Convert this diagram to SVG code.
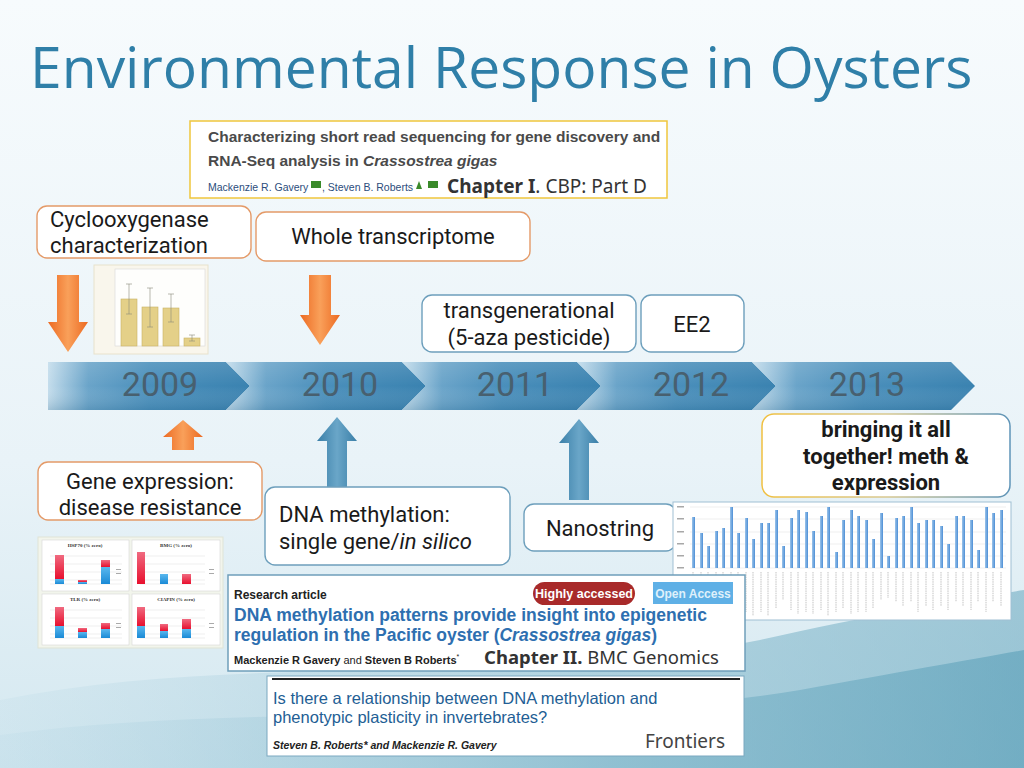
<svg xmlns="http://www.w3.org/2000/svg" width="1024" height="768" viewBox="0 0 1024 768">
<defs>
<style>
.box{font-family:Roboto,"Noto Sans",sans-serif;font-size:22px;fill:#1a1a1a}
.ob{fill:#fff;stroke:#e49a68;stroke-width:1.4}
.bb{fill:#fff;stroke:#6d9fbc;stroke-width:1.4}
.yr{font-family:Roboto,"Liberation Sans",sans-serif;font-size:34px;fill:#48606f;text-anchor:middle}
.pap{font-family:"Liberation Sans",Arial,sans-serif}
.grid{stroke:#dcdcdc;stroke-width:0.5}
</style>
<linearGradient id="bg" x1="0" y1="0" x2="0" y2="1">
<stop offset="0" stop-color="#f7fbfd"/>
<stop offset="0.6" stop-color="#e9f3f8"/>
<stop offset="1" stop-color="#d4e8f0"/>
</linearGradient>
<linearGradient id="swoosh" x1="0" y1="0" x2="1" y2="0">
<stop offset="0" stop-color="#bfdce8" stop-opacity="0.5"/>
<stop offset="0.6" stop-color="#7fb6ca"/>
<stop offset="1" stop-color="#5a9fb8"/>
</linearGradient>
<linearGradient id="chev" x1="0" y1="0" x2="1" y2="0">
<stop offset="0" stop-color="#c4ddec"/>
<stop offset="0.2" stop-color="#6aa4c9"/>
<stop offset="0.5" stop-color="#4a8fbb"/>
<stop offset="1" stop-color="#3a82b0"/>
</linearGradient>
<linearGradient id="chevv" x1="0" y1="0" x2="0" y2="1">
<stop offset="0" stop-color="#ffffff" stop-opacity="0.12"/>
<stop offset="0.5" stop-color="#ffffff" stop-opacity="0"/>
<stop offset="1" stop-color="#1d5a80" stop-opacity="0.2"/>
</linearGradient>
<linearGradient id="orng" x1="0" y1="0" x2="1" y2="0">
<stop offset="0" stop-color="#ec6a22"/>
<stop offset="0.5" stop-color="#f9a05a"/>
<stop offset="1" stop-color="#ec6a22"/>
</linearGradient>
<linearGradient id="blu" x1="0" y1="0" x2="1" y2="0">
<stop offset="0" stop-color="#3a7fa8"/>
<stop offset="0.5" stop-color="#6aa6c8"/>
<stop offset="1" stop-color="#3a7fa8"/>
</linearGradient>
<linearGradient id="red" x1="0" y1="0" x2="0" y2="1">
<stop offset="0" stop-color="#f06a80"/>
<stop offset="1" stop-color="#e8102e"/>
</linearGradient>
<linearGradient id="cyan" x1="0" y1="0" x2="0" y2="1">
<stop offset="0" stop-color="#5ab8ee"/>
<stop offset="1" stop-color="#1a8ad6"/>
</linearGradient>
<linearGradient id="mbar" x1="0" y1="0" x2="1" y2="0">
<stop offset="0" stop-color="#9cc4ea"/>
<stop offset="1" stop-color="#4d8fd6"/>
</linearGradient>
<linearGradient id="bring" x1="0" y1="0" x2="1" y2="0">
<stop offset="0" stop-color="#f0c040"/>
<stop offset="0.5" stop-color="#d8c890"/>
<stop offset="1" stop-color="#5e94b8"/>
</linearGradient>
</defs>

<!-- background -->
<rect width="1024" height="768" fill="url(#bg)"/>
<path d="M0,700 C250,650 520,690 760,640 C870,615 960,600 1024,590 L1024,768 L0,768 Z" fill="url(#swoosh)" opacity="0.5"/>
<path d="M0,735 C260,700 560,730 800,690 C900,672 970,660 1024,650 L1024,768 L0,768 Z" fill="url(#swoosh)" opacity="0.6"/>

<text x="30" y="88" font-family="'Open Sans','Noto Sans',sans-serif" font-size="57" fill="#2f7fa8">Environmental Response in Oysters</text>

<!-- top paper -->
<g id="paper1">
<rect x="190" y="121" width="477" height="77" fill="#fff" stroke="#f0c63c" stroke-width="1.5"/>
<text class="pap" x="208" y="142" font-size="15.5" font-weight="bold" fill="#4a4a4a">Characterizing short read sequencing for gene discovery and</text>
<text class="pap" x="208" y="166" font-size="15.5" font-weight="bold" fill="#4a4a4a">RNA-Seq analysis in <tspan font-style="italic">Crassostrea gigas</tspan></text>
<text class="pap" x="208" y="191" font-size="10.5" fill="#2c4d7c">Mackenzie R. Gavery</text>
<rect x="311" y="181" width="10" height="7" fill="#3a8a2a"/>
<text class="pap" x="322" y="191" font-size="10.5" fill="#2c4d7c">, Steven B. Roberts</text>
<path d="M416,189 l3,-8 l3,8 z" fill="#3a8a2a"/>
<rect x="428" y="181" width="10" height="7" fill="#3a8a2a"/>
<text x="447" y="193" font-family="'Noto Sans',sans-serif" font-size="19" fill="#333"><tspan font-weight="bold">Chapter I</tspan>. CBP: Part D</text>
</g>

<!-- COX chart -->
<g id="coxchart">
<rect x="94" y="265" width="114" height="89" fill="#f9f6ec" stroke="#e8e2cc"/>
<rect x="115" y="269" width="90" height="77" fill="#fefefc" stroke="#d8d8d8" stroke-width="0.6"/>
<g fill="#e4d088" stroke="#c8b264" stroke-width="0.6">
<rect x="121" y="299" width="16" height="47"/>
<rect x="142" y="307" width="16" height="39"/>
<rect x="163" y="308" width="16" height="38"/>
<rect x="184" y="338" width="16" height="8"/>
</g>
<g stroke="#8a8a7a" stroke-width="0.6">
<path d="M129,284 V314 M126,284 h6 M126,314 h6"/>
<path d="M150,288 V327 M147,288 h6 M147,327 h6"/>
<path d="M171,294 V322 M168,294 h6 M168,322 h6"/>
<path d="M192,335 V341 M189,335 h6 M189,341 h6"/>
</g>
</g>

<!-- timeline -->
<g id="timeline">
<g id="y2009"><polygon points="48,362 226,362 250,386 226,410 48,410" fill="url(#chev)"/><polygon points="48,362 226,362 250,386 226,410 48,410" fill="url(#chevv)"/><text class="yr" x="160" y="396">2009</text></g>
<g id="y2010"><polygon points="226,362 402,362 426,386 402,410 226,410 250,386" fill="url(#chev)"/><polygon points="226,362 402,362 426,386 402,410 226,410 250,386" fill="url(#chevv)"/><text class="yr" x="340" y="396">2010</text></g>
<g id="y2011"><polygon points="402,362 577,362 601,386 577,410 402,410 426,386" fill="url(#chev)"/><polygon points="402,362 577,362 601,386 577,410 402,410 426,386" fill="url(#chevv)"/><text class="yr" x="515" y="396">2011</text></g>
<g id="y2012"><polygon points="577,362 752,362 776,386 752,410 577,410 601,386" fill="url(#chev)"/><polygon points="577,362 752,362 776,386 752,410 577,410 601,386" fill="url(#chevv)"/><text class="yr" x="691" y="396">2012</text></g>
<g id="y2013"><polygon points="752,362 951,362 975,386 951,410 752,410 776,386" fill="url(#chev)"/><polygon points="752,362 951,362 975,386 951,410 752,410 776,386" fill="url(#chevv)"/><text class="yr" x="867" y="396">2013</text></g>
</g>

<!-- connectors (arrows) -->
<g id="connectors">
<polygon points="57,275 79,275 79,322 88,322 68,352 48,322 57,322" fill="url(#orng)"/>
<polygon points="309,275 331,275 331,315 340,315 320,345 300,315 309,315" fill="url(#orng)"/>
<polygon points="183,420 203,437 194,437 194,450 172,450 172,437 163,437" fill="url(#orng)"/>
<polygon points="337,417 357,441 347,441 347,497 327,497 327,441 317,441" fill="url(#blu)"/>
<polygon points="579,419 599,443 589,443 589,500 569,500 569,443 559,443" fill="url(#blu)"/>
</g>

<!-- nodes -->
<g id="cox"><rect class="ob" x="37" y="206" width="214" height="52" rx="10"/><text class="box" x="50" y="227">Cyclooxygenase</text><text class="box" x="50" y="253">characterization</text></g>
<g id="whole"><rect class="ob" x="256" y="212" width="274" height="49" rx="10"/><text class="box" x="393" y="244" text-anchor="middle">Whole transcriptome</text></g>
<g id="transgen"><rect class="bb" x="422" y="295" width="214" height="57" rx="10"/><text class="box" x="529" y="318" text-anchor="middle">transgenerational</text><text class="box" x="529" y="345" text-anchor="middle">(5-aza pesticide)</text></g>
<g id="ee2"><rect class="bb" x="641" y="295" width="103" height="57" rx="10"/><text class="box" x="692" y="332" text-anchor="middle">EE2</text></g>
<g id="geneexp"><rect class="ob" x="38" y="462" width="224" height="58" rx="10"/><text class="box" x="150" y="489" text-anchor="middle">Gene expression:</text><text class="box" x="150" y="515" text-anchor="middle">disease resistance</text></g>
<g id="dnameth"><rect class="bb" x="265" y="487" width="245" height="78" rx="10"/><text class="box" x="279" y="522">DNA methylation:</text><text class="box" x="279" y="549">single gene/<tspan font-style="italic">in silico</tspan></text></g>
<g id="nano"><rect class="bb" x="524" y="504" width="152" height="47" rx="10"/><text class="box" x="600" y="536" text-anchor="middle">Nanostring</text></g>
<g id="bringing"><rect x="762" y="414" width="248" height="83" rx="12" fill="#fff" stroke="url(#bring)" stroke-width="1.5"/><g class="box" font-weight="bold" text-anchor="middle" font-size="21.5"><text x="886" y="437">bringing it all</text><text x="886" y="464">together! meth &amp;</text><text x="886" y="490">expression</text></g></g>

<!-- gene expression 4-panel chart -->
<g id="gechart">
<rect x="38" y="537" width="185" height="111" fill="#f2f5ec" stroke="#dfe3d6"/>
<g fill="#fff" stroke="#d6d6d6" stroke-width="0.6">
<rect x="42" y="540" width="87" height="51"/><rect x="132" y="540" width="88" height="51"/>
<rect x="42" y="594" width="87" height="51"/><rect x="132" y="594" width="88" height="51"/>
</g>
<g font-family="'Liberation Serif',serif" font-size="5" font-weight="bold" fill="#333" text-anchor="middle">
<text x="85" y="547">HSP70 (% zero)</text><text x="176" y="547">BMG (% zero)</text>
<text x="85" y="601">TLR (% zero)</text><text x="176" y="601">CIAPIN (% zero)</text>
</g>
<g class="grid">
<path d="M50,556 H122 M50,564 H122 M50,572 H122 M50,580 H122 M50,584 H122"/>
<path d="M140,556 H205 M140,564 H205 M140,572 H205 M140,580 H205 M140,584 H205"/>
<path d="M50,610 H122 M50,618 H122 M50,626 H122 M50,634 H122 M50,638 H122"/>
<path d="M140,610 H205 M140,618 H205 M140,626 H205 M140,634 H205 M140,638 H205"/>
</g>
<rect x="55" y="555" width="9" height="24" fill="url(#red)"/><rect x="55" y="579" width="9" height="5" fill="url(#cyan)"/>
<rect x="78" y="580" width="9" height="2" fill="url(#red)"/><rect x="78" y="582" width="9" height="2" fill="url(#cyan)"/>
<rect x="101" y="560" width="9" height="7" fill="url(#red)"/><rect x="101" y="567" width="9" height="17" fill="url(#cyan)"/>
<rect x="137" y="552" width="8" height="32" fill="url(#red)"/>
<rect x="160" y="574" width="8" height="10" fill="url(#cyan)"/>
<rect x="182" y="574" width="9" height="10" fill="url(#red)"/>
<rect x="55" y="607" width="9" height="19" fill="url(#red)"/><rect x="55" y="626" width="9" height="12" fill="url(#cyan)"/>
<rect x="78" y="628" width="9" height="4" fill="url(#red)"/><rect x="78" y="632" width="9" height="6" fill="url(#cyan)"/>
<rect x="101" y="623" width="9" height="6" fill="url(#red)"/><rect x="101" y="629" width="9" height="9" fill="url(#cyan)"/>
<rect x="137" y="607" width="8" height="19" fill="url(#red)"/><rect x="137" y="626" width="8" height="12" fill="url(#cyan)"/>
<rect x="160" y="624" width="8" height="7" fill="url(#red)"/><rect x="160" y="631" width="8" height="7" fill="url(#cyan)"/>
<rect x="182" y="619" width="9" height="10" fill="url(#red)"/><rect x="182" y="629" width="9" height="9" fill="url(#cyan)"/>
<g fill="#aaa"><rect x="116" y="569" width="5" height="1"/><rect x="116" y="573" width="5" height="1"/><rect x="209" y="569" width="5" height="1"/><rect x="209" y="573" width="5" height="1"/><rect x="116" y="623" width="5" height="1"/><rect x="116" y="627" width="5" height="1"/><rect x="209" y="623" width="5" height="1"/><rect x="209" y="627" width="5" height="1"/></g>
</g>

<!-- methylation bar chart -->
<g id="methchart">
<rect x="673" y="502" width="338" height="118" fill="#fff" stroke="#9fbfd3"/>
<g class="grid"><path d="M690,507 H1006 M690,519 H1006 M690,532 H1006 M690,544 H1006 M690,556 H1006 M690,568 H1006"/></g>
<g fill="#a8a8a8"><rect x="677" y="506" width="7" height="1.5"/><rect x="677" y="518" width="7" height="1.5"/><rect x="677" y="531" width="7" height="1.5"/><rect x="677" y="543" width="7" height="1.5"/><rect x="677" y="555" width="7" height="1.5"/><rect x="677" y="567" width="7" height="1.5"/></g>
<g fill="url(#mbar)">
<rect x="692" y="517" width="3" height="51"/><rect x="700" y="533" width="3" height="35"/><rect x="707" y="546" width="3" height="22"/><rect x="715" y="531" width="3" height="37"/><rect x="722" y="528" width="3" height="40"/><rect x="730" y="507" width="3" height="61"/><rect x="737" y="533" width="3" height="35"/><rect x="745" y="518" width="3" height="50"/><rect x="752" y="539" width="3" height="29"/><rect x="760" y="523" width="3" height="45"/><rect x="767" y="523" width="3" height="45"/><rect x="775" y="510" width="3" height="58"/><rect x="782" y="546" width="3" height="22"/><rect x="790" y="518" width="3" height="50"/><rect x="797" y="510" width="3" height="58"/><rect x="805" y="512" width="3" height="56"/><rect x="812" y="531" width="3" height="37"/><rect x="820" y="516" width="3" height="52"/><rect x="827" y="507" width="3" height="61"/><rect x="835" y="552" width="3" height="16"/><rect x="842" y="520" width="3" height="48"/><rect x="850" y="510" width="3" height="58"/><rect x="857" y="516" width="3" height="52"/><rect x="865" y="520" width="3" height="48"/><rect x="872" y="539" width="3" height="29"/><rect x="880" y="513" width="3" height="55"/><rect x="887" y="556" width="3" height="12"/><rect x="895" y="518" width="3" height="50"/><rect x="902" y="516" width="3" height="52"/><rect x="910" y="507" width="3" height="61"/><rect x="917" y="523" width="3" height="45"/><rect x="925" y="520" width="3" height="48"/><rect x="932" y="520" width="3" height="48"/><rect x="940" y="526" width="3" height="42"/><rect x="947" y="544" width="3" height="24"/><rect x="955" y="516" width="3" height="52"/><rect x="962" y="516" width="3" height="52"/><rect x="970" y="520" width="3" height="48"/><rect x="977" y="550" width="3" height="18"/><rect x="985" y="507" width="3" height="61"/><rect x="992" y="513" width="3" height="55"/><rect x="1000" y="510" width="3" height="58"/>
</g>
<g stroke="#b4b4b4" stroke-width="0.8" stroke-dasharray="1.5,0.8">
<path d="M693,572 v4 M701,572 v4 M708,572 v4 M716,572 v4 M723,572 v4 M731,572 v4 M738,572 v4"/>
<path d="M746,572 v40 M753,572 v44 M761,572 v40 M768,572 v44 M776,572 v36 M783,572 v28 M791,572 v38 M798,572 v42 M806,572 v40 M813,572 v42 M821,572 v38 M828,572 v44 M836,572 v40 M843,572 v36 M851,572 v42 M858,572 v40 M866,572 v40 M873,572 v36 M881,572 v28 M888,572 v26 M896,572 v30 M903,572 v34 M911,572 v30 M918,572 v40 M926,572 v34 M933,572 v38 M941,572 v34 M948,572 v38 M956,572 v30 M963,572 v34 M971,572 v38 M978,572 v30 M986,572 v40 M993,572 v30 M1001,572 v34"/>
</g>
</g>

<!-- BMC paper -->
<g id="paper2">
<rect x="228" y="575" width="517" height="96" fill="#fff" stroke="#6f9fba" stroke-width="1.5"/>
<text class="pap" x="234" y="599" font-size="12" font-weight="bold" fill="#222">Research article</text>
<rect x="533" y="582" width="102" height="23" rx="11.5" fill="#a82a2a"/>
<text class="pap" x="584" y="598" font-size="12.5" font-weight="bold" fill="#fff" text-anchor="middle">Highly accessed</text>
<rect x="653" y="582" width="80" height="22" fill="#5fb0e6"/>
<text class="pap" x="693" y="598" font-size="12" font-weight="bold" fill="#dff0fb" text-anchor="middle">Open Access</text>
<text class="pap" x="234" y="621" font-size="17.5" font-weight="bold" fill="#2e6fb0">DNA methylation patterns provide insight into epigenetic</text>
<text class="pap" x="234" y="641" font-size="17.5" font-weight="bold" fill="#2e6fb0">regulation in the Pacific oyster (<tspan font-style="italic">Crassostrea gigas</tspan>)</text>
<text class="pap" x="234" y="664" font-size="11" fill="#222"><tspan font-weight="bold">Mackenzie R Gavery</tspan> and <tspan font-weight="bold">Steven B Roberts</tspan><tspan font-size="7" dy="-5">*</tspan></text>
<text x="484" y="664" font-family="'Noto Sans',sans-serif" font-size="18.5" fill="#333"><tspan font-weight="bold">Chapter II.</tspan> BMC Genomics</text>
</g>

<!-- Frontiers paper -->
<g id="paper3">
<rect x="267" y="676" width="477" height="80" fill="#fff" stroke="#7aa8c0" stroke-width="1"/>
<line x1="272" y1="679" x2="740" y2="679" stroke="#222" stroke-width="2"/>
<text class="pap" x="273" y="704" font-size="16.5" fill="#235e94">Is there a relationship between DNA methylation and</text>
<text class="pap" x="273" y="723" font-size="16.5" fill="#235e94">phenotypic plasticity in invertebrates?</text>
<text class="pap" x="273" y="749" font-size="10.5" font-weight="bold" font-style="italic" fill="#222">Steven B. Roberts* and Mackenzie R. Gavery</text>
<text x="645" y="748" font-family="'Noto Sans',sans-serif" font-size="19" fill="#444">Frontiers</text>
</g>
</svg>
